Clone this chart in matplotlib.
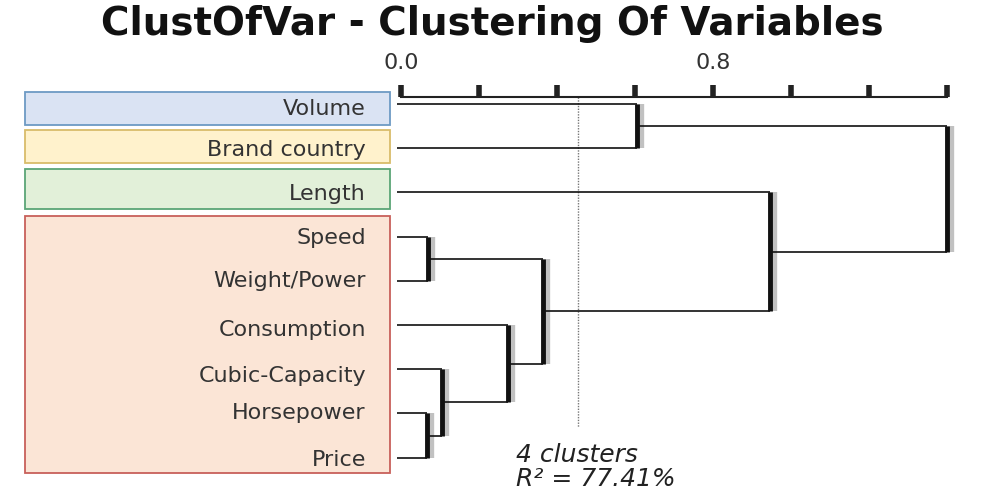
import numpy as np
import matplotlib
matplotlib.use("Agg")
import matplotlib.pyplot as plt
from matplotlib.patches import Rectangle

# variaveis (folhas do dendrograma, de cima para baixo)
leaves = ["Volume", "Brand country", "Length", "Speed", "Weight/Power",
          "Consumption", "Cubic-Capacity", "Horsepower", "Price"]

# fusoes: (filho a, filho b, altura) - ids novos comecam em len(leaves)
merge_a = [3, 7, 6, 5, 9, 0, 2, 14]
merge_b = [4, 8, 10, 11, 12, 1, 13, 15]
merge_h = [0.069, 0.067, 0.105, 0.274, 0.364, 0.605, 0.946, 1.40]

# grupos (4 clusters) -> primeira e ultima folha, cores
groups = [(0, 0), (1, 1), (2, 2), (3, 8)]
group_pad = [(0.27, 0.475), (0.41, 0.335), (0.53, 0.375), (0.47, 0.35)]
group_fill = ["#dae3f3", "#fff2cc", "#e2f0d9", "#fbe5d6"]
group_edge = ["#6d9ac4", "#d9bc6a", "#5aa576", "#c8605a"]
# deslocamento vertical dos rotulos em relacao a folha
label_dy = [0.07, 0.0, -0.01, -0.02, -0.05, 0.07, 0.1, -0.05, 0.0]

tick_vals = [0.0, 0.2, 0.4, 0.6, 0.8, 1.0, 1.2, 1.4]
tick_labels = ["0.0", "", "", "", "0.8", "", "", ""]
cut_height = 0.454
cut_text = "4 clusters\nR² = 77.41%"

fig = plt.figure(figsize=(9.85, 4.93), dpi=100)
ax = fig.add_axes([0, 0, 1, 1])
ax.set_xlim(-1.028, 1.497)
ax.set_ylim(8.80, -2.353)

# posicoes dos nos
xpos = {i: 0.0 for i in range(len(leaves))}
ypos = {i: float(i) for i in range(len(leaves))}
n = len(leaves)
for k, (a, b, h) in enumerate(zip(merge_a, merge_b, merge_h)):
    node = n + k
    for c in (a, b):
        ax.plot([xpos[c] - 0.01 * (c < n), h], [ypos[c], ypos[c]], color="#111111",
                lw=1.2, solid_capstyle="butt", zorder=3)
    ya, yb = ypos[a], ypos[b]
    ax.plot([h + 0.008, h + 0.008], [ya, yb], color="#999999", lw=6, alpha=0.6,
            solid_capstyle="butt", zorder=2)
    ax.plot([h, h], [ya, yb], color="#111111", lw=3.5, solid_capstyle="butt", zorder=4)
    xpos[node] = h
    ypos[node] = (ya + yb) / 2

# caixas coloridas
for (g0, g1), (pt, pb), fc, ec in zip(groups, group_pad, group_fill, group_edge):
    ax.add_patch(Rectangle((-0.964, g0 - pt), 0.936, g1 - g0 + pt + pb,
                           facecolor=fc, edgecolor=ec, lw=1.3, zorder=1))

for i, name in enumerate(leaves):
    ax.text(-0.09, i + label_dy[i], name, ha="right", va="center_baseline",
            fontsize=16, color="#333333", zorder=5)

# linha de corte
ax.plot([cut_height, cut_height], [-0.15, 7.3], color="#777777", lw=1,
        ls=(0, (1, 1)), zorder=1)
ax.text(0.295, 8.22, cut_text, ha="left", va="center", fontsize=18,
        style="italic", color="#222222", linespacing=1.0)

# eixo superior
ax.spines[["left", "right", "bottom"]].set_visible(False)
ax.spines["top"].set_position(("data", -0.16))
ax.spines["top"].set_bounds(0, 1.4)
ax.spines["top"].set_linewidth(1.5)
ax.spines["top"].set_color("#222222")
ax.xaxis.set_ticks_position("top")
ax.set_xticks(tick_vals)
ax.set_xticklabels(tick_labels)
ax.tick_params(axis="x", direction="out", length=9, width=4, color="#222222",
               pad=8, labelsize=16, labelcolor="#333333")
ax.set_yticks([])

fig.text(0.5, 0.952, "ClustOfVar - Clustering Of Variables", ha="center",
         va="center", fontsize=28, fontweight="bold", color="#111111")

fig.savefig("out.png", dpi=100, facecolor="white")
